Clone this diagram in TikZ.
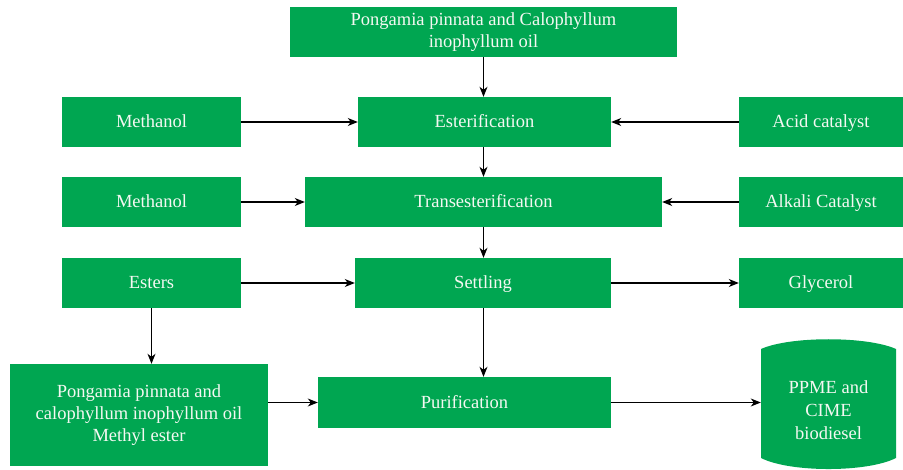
\documentclass[tikz,border=0pt]{standalone}
\usepackage{fontspec}
\setmainfont{Liberation Serif}
\usetikzlibrary{arrows.meta}
\definecolor{boxgreen}{HTML}{00A651}
\definecolor{txtwhite}{HTML}{F4F8F2}
\tikzset{
  box/.style={fill=boxgreen, draw=none, text=txtwhite, align=center, inner sep=0pt,
    font=\fontsize{18.5}{22}\selectfont},
  onebox/.style={box, text height=15.5pt, text depth=4pt},
  conn/.style={draw=black, line width=1.1pt, -{Stealth[length=10pt,width=8pt,inset=3pt]}}
}
\begin{document}
\begin{tikzpicture}[x=1pt,y=-1pt]
\useasboundingbox (0,0) rectangle (903,470);
\node[box, minimum width=387, minimum height=50] (top) at (483.5,32) {Pongamia pinnata and Calophyllum\\inophyllum oil};
\node[onebox, minimum width=179, minimum height=50] (m1) at (151.5,122) {Methanol};
\node[onebox, minimum width=253, minimum height=50] (est) at (484.5,122) {Esterification};
\node[onebox, minimum width=164, minimum height=50] (acid) at (821,122) {Acid catalyst};
\node[onebox, minimum width=179, minimum height=50] (m2) at (151.5,202) {Methanol};
\node[onebox, minimum width=357, minimum height=50] (trans) at (483.5,202) {Transesterification};
\node[onebox, minimum width=164, minimum height=50] (alk) at (821,202) {Alkali Catalyst};
\node[onebox, minimum width=179, minimum height=50] (esters) at (151.5,283) {Esters};
\node[onebox, minimum width=256, minimum height=50] (settle) at (483,283) {Settling};
\node[onebox, minimum width=164, minimum height=50] (gly) at (821,283) {Glycerol};
\node[box, minimum width=258, minimum height=102] (mester) at (139,415) {Pongamia pinnata and\\calophyllum inophyllum oil\\Methyl ester};
\node[onebox, minimum width=293, minimum height=51] (purif) at (464.5,402.5) {Purification};
\fill[boxgreen] (761,349) .. controls (790,336) and (867,336) .. (896,349) -- (896,458) .. controls (867,472.7) and (790,472.7) .. (761,458) -- cycle;
\node[box, fill=none, minimum width=135, minimum height=100, font=\fontsize{18.5}{23}\selectfont] (cyl) at (828.5,410) {PPME and\\CIME\\biodiesel};
\draw[conn] (top.south) -- (top.south |- est.north);
\draw[conn] (m1.east) -- (est.west);
\draw[conn] (acid.west) -- (est.east);
\draw[conn] (top.south |- est.south) -- (top.south |- trans.north);
\draw[conn] (m2.east) -- (trans.west);
\draw[conn] (alk.west) -- (trans.east);
\draw[conn] (top.south |- trans.south) -- (top.south |- settle.north);
\draw[conn] (esters.east) -- (settle.west);
\draw[conn] (settle.east) -- (gly.west);
\draw[conn] (esters.south) -- (esters.south |- mester.north);
\draw[conn] (top.south |- settle.south) -- (top.south |- purif.north);
\draw[conn] (mester.east |- purif.west) -- (purif.west);
\draw[conn] (purif.east) -- (cyl.west |- purif.east);
\end{tikzpicture}
\end{document}
